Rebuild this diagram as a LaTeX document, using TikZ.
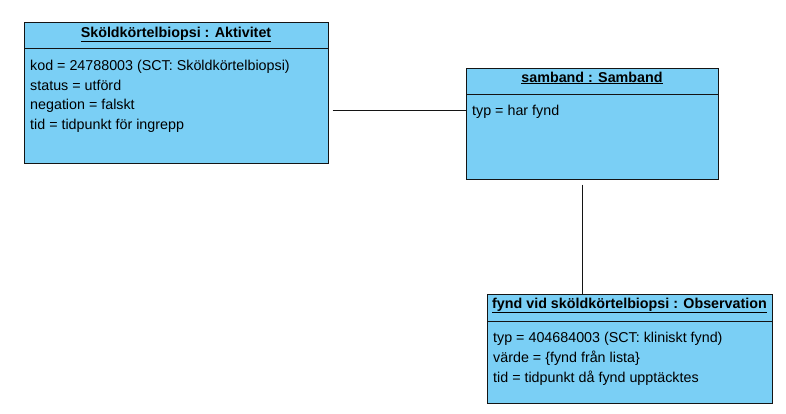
\documentclass[tikz,border=0pt]{standalone}
\usepackage{fontspec}
\setmainfont{Liberation Sans}
\definecolor{boxfill}{RGB}{122,207,245}
\definecolor{boxline}{RGB}{20,20,20}
\begin{document}
\begin{tikzpicture}[x=1pt,y=-1pt,
  umlbox/.style={draw=boxline,fill=boxfill,line width=1pt,inner sep=0pt},
  title/.style={font=\fontsize{14.3}{16}\selectfont\bfseries,inner sep=0pt,anchor=base},
  attr/.style={font=\fontsize{14.3}{16}\selectfont,inner sep=0pt,anchor=base west},
  conn/.style={draw=boxline,line width=1pt}]
\useasboundingbox (0,0) rectangle (786,413);
% Box 1
\node[umlbox,minimum width=304pt,minimum height=141pt] (b1) at (176,92.5) {};
\draw[boxline,line width=1pt] (24,48) -- (328,48);
\node[title] (t1) at (176,37) {\underline{Sköldkörtelbiopsi : Aktivitet}};
\node[attr] (a11) at (30,70) {kod = 24788003 (SCT: Sköldkörtelbiopsi)};
\node[attr] (a12) at (30,90) {status = utförd};
\node[attr] (a13) at (30,109) {negation = falskt};
\node[attr] (a14) at (30,129) {tid = tidpunkt för ingrepp};
% Box 2
\node[umlbox,minimum width=252pt,minimum height=111pt] (b2) at (592,123.5) {};
\draw[boxline,line width=1pt] (466,94) -- (718,94);
\node[title] (t2) at (592,82) {\underline{samband : Samband}};
\node[attr] (a21) at (472,115) {typ = har fynd};
% Box 3
\node[umlbox,minimum width=285pt,minimum height=109pt] (b3) at (629.5,348.5) {};
\draw[boxline,line width=1pt] (487,321) -- (772,321);
\node[title] (t3) at (629.5,308) {\underline{fynd vid sköldkörtelbiopsi : Observation}};
\node[attr] (a31) at (493,342) {typ = 404684003 (SCT: kliniskt fynd)};
\node[attr] (a32) at (493,362) {värde = \{fynd från lista\}};
\node[attr] (a33) at (493,382) {tid = tidpunkt då fynd upptäcktes};
% Connectors
\coordinate (c1) at (0,110);
\coordinate (c2) at (582,0);
\draw[conn] ([xshift=4pt]b1.east |- c1) -- (b2.west |- c1);
\draw[conn] ([yshift=-5pt]c2 |- b2.south) -- (c2 |- b3.north);
\end{tikzpicture}
\end{document}
